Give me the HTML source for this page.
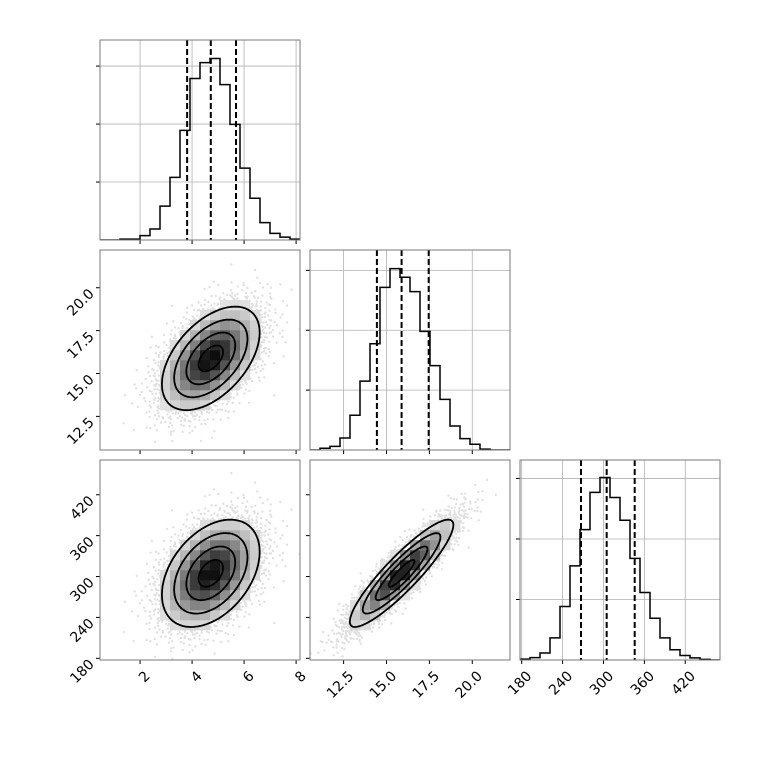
<!DOCTYPE html>
<html><head><meta charset="utf-8"><style>
html,body{margin:0;padding:0;background:#fff;}
svg{display:block;font-family:"DejaVu Sans","Liberation Sans",sans-serif;}
</style></head><body>
<svg id="chart" width="760" height="760" viewBox="0 0 760 760" xmlns="http://www.w3.org/2000/svg"></svg>
<script>
// ---- data ----
const paramNames = ["p1", "p2", "p3"];
const paramMeans = [4.72, 15.88, 304.7];
const paramSigmas = [0.94, 1.51, 39.4];
const paramRanges = [[0.46, 8.15], [10.54, 22.2], [177.5, 471]];
const quantiles1 = [3.81, 4.72, 5.69];
const quantiles2 = [14.44, 15.88, 17.46];
const quantiles3 = [267, 304.7, 345.8];
const hist1 = [0, 0, 3, 3, 15, 38, 117, 216, 378, 557, 612, 626, 536, 399, 248, 144, 60, 23, 10, 3];
const hist2 = [0, 6, 12, 40, 116, 230, 355, 543, 606, 577, 529, 396, 282, 169, 80, 38, 19, 3, 0, 0];
const hist3 = [3, 8, 23, 73, 177, 311, 431, 554, 603, 537, 462, 336, 223, 138, 73, 34, 15, 7, 2, 0];
const histYMax = [690, 668, 661];
const countTicks = [200, 400, 600];
const correlations = [[1, 0.5, 0.4], [0.5, 1, 0.9], [0.4, 0.9, 1]];
const ticks1 = [2, 4, 6, 8];
const ticks2 = [12.5, 15.0, 17.5, 20.0];
const ticks3 = [180, 240, 300, 360, 420];
const tickLabels1 = ["2", "4", "6", "8"];
const tickLabels2 = ["12.5", "15.0", "17.5", "20.0"];
const tickLabels3 = ["180", "240", "300", "360", "420"];
const contourLevels = [0.5, 1, 1.5, 2];

const hists = [hist1, hist2, hist3];
const quants = [quantiles1, quantiles2, quantiles3];
const ticks = [ticks1, ticks2, ticks3];
const tickLabels = [tickLabels1, tickLabels2, tickLabels3];

const NS = "http://www.w3.org/2000/svg";
const svg = document.getElementById("chart");
function mk(tag, attrs, parent) {
  const e = document.createElementNS(NS, tag);
  for (const k in attrs) e.setAttribute(k, attrs[k]);
  (parent || svg).appendChild(e);
  return e;
}
const P0 = 100, PS = 200, GAP = 10;
function panelX(c) { return P0 + c * (PS + GAP); }
function panelY(r) { return 40 + r * (PS + GAP); }
function sx(c, v) { const r = paramRanges[c]; return panelX(c) + (v - r[0]) / (r[1] - r[0]) * PS; }
function sy(row, v) { const r = paramRanges[row]; return panelY(row) + PS - (v - r[0]) / (r[1] - r[0]) * PS; }

function halton(i, b) { let f = 1, r = 0; while (i > 0) { f /= b; r += f * (i % b); i = Math.floor(i / b); } return r; }

let clipId = 0;
for (let row = 0; row < 3; row++) {
  for (let col = 0; col <= row; col++) {
    const x0 = panelX(col), y0 = panelY(row);
    const g = mk("g", {});
    
    
    const cid = "clip" + (clipId++);
    const cp = mk("clipPath", { id: cid }, g);
    mk("rect", { x: x0, y: y0, width: PS, height: PS }, cp);
    const inner = mk("g", { "clip-path": "url(#" + cid + ")" }, g);
    if (row === col) {
      const h = hists[col], ymax = histYMax[col];
      const hy = v => y0 + PS - v / ymax * PS;
      // grid
      ticks[col].forEach(t => {
        const l = mk("line", { x1: sx(col, t), x2: sx(col, t), y1: y0, y2: y0 + PS, stroke: "#b0b0b0", "stroke-width": 0.8 }, inner);
        
        
      });
      countTicks.forEach(t => {
        const l = mk("line", { x1: x0, x2: x0 + PS, y1: hy(t), y2: hy(t), stroke: "#b0b0b0", "stroke-width": 0.8 }, inner);
        
        
      });
      const rg = paramRanges[col], bw = (rg[1] - rg[0]) / h.length;
      let d = "";
      for (let i = 0; i < h.length; i++) {
        const xa = sx(col, rg[0] + i * bw), xb = sx(col, rg[0] + (i + 1) * bw), yy = hy(h[i]);
        d += (i === 0 ? "M" + xa + "," + yy : "L" + xa + "," + yy) + "L" + xb + "," + yy;
      }
      const hp = mk("path", { d: d, fill: "none", stroke: "#000", "stroke-width": 1.5 }, inner);
      
      
      quants[col].forEach((q, qi) => {
        const l = mk("line", { x1: sx(col, q), x2: sx(col, q), y1: y0, y2: y0 + PS, stroke: "#000", "stroke-width": 2, "stroke-dasharray": "6,3" }, inner);
        
        
      });
      countTicks.forEach(t => {
        const l = mk("line", { x1: x0 - 4, x2: x0, y1: hy(t), y2: hy(t), stroke: "#000", "stroke-width": 1 }, g);
        
        
      });
    } else {
      const mx = paramMeans[col], my = paramMeans[row], sgx = paramSigmas[col], sgy = paramSigmas[row];
      const rho = correlations[row][col];
      const k = Math.sqrt(1 - rho * rho);
      const maha = (vx, vy) => {
        const a = (vx - mx) / sgx, b = (vy - my) / sgy;
        return (a * a - 2 * rho * a * b + b * b) / (1 - rho * rho);
      };
      // scatter points (deterministic quasi-random gaussian sample)
      let pd = "";
      for (let i = 1; i <= 4000; i++) {
        const u1 = halton(i, 2), u2 = halton(i, 3);
        const rr = Math.sqrt(-2 * Math.log(u1 + 1e-9)), th = 2 * Math.PI * u2;
        const z1 = rr * Math.cos(th), z2 = rr * Math.sin(th);
        const vx = mx + sgx * z1, vy = my + sgy * (rho * z1 + k * z2);
        if (z1 * z1 + z2 * z2 < 3.6) continue;
        const px = sx(col, vx), py = sy(row, vy);
        pd += "M" + (px - 1.2).toFixed(1) + "," + py.toFixed(1) + "a1.2,1.2 0 1,0 2.4,0a1.2,1.2 0 1,0 -2.4,0";
      }
      const sp = mk("path", { d: pd, fill: "#000", "fill-opacity": 0.12 }, inner);
      
      
      // 2D histogram cells
      const rx = paramRanges[col], ry = paramRanges[row];
      const nb = 20, bwx = (rx[1] - rx[0]) / nb, bwy = (ry[1] - ry[0]) / nb;
      const cells = mk("g", {}, inner);
      
      
      for (let i = 0; i < nb; i++) for (let j = 0; j < nb; j++) {
        const cx = rx[0] + (i + 0.5) * bwx, cy = ry[0] + (j + 0.5) * bwy;
        const d2 = maha(cx, cy);
        if (d2 > 4.6) continue;
        const dens = Math.exp(-d2 / 2);
        const gv = Math.round(250 - 240 * dens);
        const xa = sx(col, rx[0] + i * bwx), xb = sx(col, rx[0] + (i + 1) * bwx);
        const ya = sy(row, ry[0] + (j + 1) * bwy), yb = sy(row, ry[0] + j * bwy);
        mk("rect", { x: xa, y: ya, width: xb - xa + 0.3, height: yb - ya + 0.3, fill: "rgb(" + gv + "," + gv + "," + gv + ")" }, cells);
      }
      // contours
      contourLevels.forEach((lv, li) => {
        let d = "";
        for (let t = 0; t <= 72; t++) {
          const a = t / 72 * 2 * Math.PI;
          const z1 = lv * Math.cos(a), z2 = lv * Math.sin(a);
          const vx = mx + sgx * z1, vy = my + sgy * (rho * z1 + k * z2);
          d += (t === 0 ? "M" : "L") + sx(col, vx).toFixed(1) + "," + sy(row, vy).toFixed(1);
        }
        const c = mk("path", { d: d + "Z", fill: "none", stroke: "#000", "stroke-width": 1.8 }, inner);
        
        
      });
      // y ticks
      ticks[row].forEach(t => {
        const l = mk("line", { x1: x0 - 4, x2: x0, y1: sy(row, t), y2: sy(row, t), stroke: "#000", "stroke-width": 1 }, g);
        
        
      });
    }
    // x ticks
    ticks[col].forEach(t => {
      const l = mk("line", { x1: sx(col, t), x2: sx(col, t), y1: y0 + PS, y2: y0 + PS + 4, stroke: "#000", "stroke-width": 1 }, g);
      
      
    });
    const fr = mk("rect", { x: x0, y: y0, width: PS, height: PS, fill: "none", stroke: "#7a7a7a", "stroke-width": 1 }, g);
    
    
    // labels
    if (row === 2) {
      ticks[col].forEach((t, i) => {
        const x = sx(col, t) + 4, y = y0 + PS + 10;
        const tx = mk("text", { x: x, y: y, "font-size": 14, "text-anchor": "end", "dominant-baseline": "hanging", transform: "rotate(-45 " + x + " " + y + ")" });
        tx.textContent = tickLabels[col][i];
        
        
      });
    }
    if (col === 0 && row > 0) {
      ticks[row].forEach((t, i) => {
        const x = x0 - 8, y = sy(row, t) + 4;
        const tx = mk("text", { x: x, y: y, "font-size": 14, "text-anchor": "end", "dominant-baseline": "middle", transform: "rotate(-45 " + x + " " + y + ")" });
        tx.textContent = tickLabels[row][i];
        
        
      });
    }
  }
}
</script>
</body></html>
